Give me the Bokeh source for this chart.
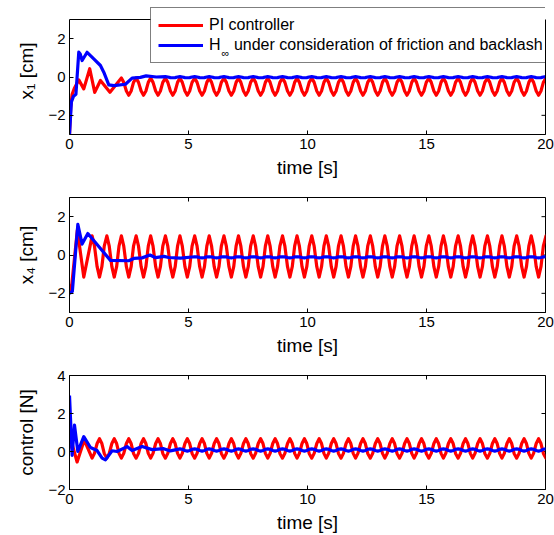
from bokeh.plotting import figure
from bokeh.models import Range1d, FixedTicker, LinearAxis, Legend, LegendItem
from bokeh.core.properties import value
from bokeh.layouts import column
from bokeh.embed import file_html
from bokeh.resources import INLINE

FONT = "Liberation Sans"
RED = "#ff0000"
BLUE = "#0000ff"

# ---------------- data ----------------
X_TICKS = [0, 5, 10, 15, 20]
Y_TICKS_X = [-2, 0, 2]
Y_TICKS_U = [-2, 0, 2, 4]

# start times of the cycles of the steady oscillation (peaks of x4) [s]
CYCLE_T = [0.95, 1.57, 2.18, 2.80, 3.41, 4.03, 4.64, 5.26, 5.87, 6.49,
           7.10, 7.72, 8.33, 8.95, 9.56, 10.18, 10.79, 11.41, 12.02, 12.64,
           13.25, 13.87, 14.48, 15.10, 15.71, 16.33, 16.94, 17.56, 18.17, 18.79,
           19.40, 20.02]
# sample offsets inside one cycle [s]
CYCLE_OFFS = [0.0, 0.10, 0.21, 0.31, 0.41, 0.51]

# x1 - PI controller: start-up, then one cycle of the steady wave
x1_pi_t0 = [0.0, 0.05, 0.11, 0.2, 0.39, 0.6, 0.85, 1.06, 1.3, 1.7]
x1_pi_v0 = [-3.0, -1.6, -0.9, -0.6, -0.15, -0.62, 0.43, -0.8, -0.18, -0.8]
x1_pi_cycle = [-0.05, -0.28, -0.73, -0.95, -0.73, -0.28]
# x1 - H-infinity
x1_h_t0 = [0.0, 0.08, 0.17, 0.27, 0.39, 0.45, 0.53, 0.74, 1.02, 1.30, 1.44, 1.65,
           1.87, 2.35, 2.63, 2.98, 3.22, 3.65]
x1_h_v0 = [-3.0, -1.3, -1.0, -0.9, 1.3, 1.2, 0.86, 1.29, 0.95, 0.6, 0.25, -0.41,
           -0.45, -0.38, -0.06, -0.02, 0.06, 0.0]
x1_h_cycle = [0.02, 0.0, -0.03, -0.04, -0.03, 0.0]

# x4 - PI controller
x4_pi_t0 = [0.0, 0.1, 0.33, 0.6]
x4_pi_v0 = [-2.0, -1.5, 1.3, -1.15]
x4_pi_cycle = [1.0, 0.46, -0.61, -1.15, -0.61, 0.46]
# x4 - H-infinity
x4_h_t0 = [0.0, 0.12, 0.35, 0.53, 0.77, 1.72, 2.49, 2.70, 3.05, 3.38, 3.62, 3.97,
           4.17, 4.66]
x4_h_v0 = [-2.0, -1.9, 1.6, 0.57, 1.12, -0.28, -0.3, -0.18, -0.15, 0.0, -0.14, -0.07,
           -0.13, -0.16]
x4_h_cycle = [-0.09, -0.10, -0.13, -0.15, -0.13, -0.10]

# control - PI controller
u_pi_t0 = [0.0, 0.12, 0.32, 0.62]
u_pi_v0 = [0.2, 0.35, -0.55, 0.6]
u_pi_cycle = [-0.35, -0.10, 0.42, 0.67, 0.42, -0.10]
# control - H-infinity
u_h_t0 = [0.0, 0.11, 0.21, 0.35, 0.6, 0.88, 1.16, 1.37, 1.51, 1.79, 2.0, 2.42,
          2.63, 3.05, 3.47, 3.96, 4.24]
u_h_v0 = [2.95, -0.2, 1.39, 0.0, 0.78, 0.21, 0.05, -0.35, -0.44, 0.04, 0.0, 0.26,
          0.05, 0.26, 0.1, 0.15, 0.03]
u_h_cycle = [0.14, 0.12, 0.05, 0.02, 0.05, 0.12]

LABEL_PI = "PI controller"
LABEL_H = "H\u00a0\u00a0\u00a0under consideration of friction and backlash"
SUB_H = "\u221e"

TICK_PX = 4
FRAME_W = 476
LW = 3.2
LEG_LEFT_PX = 81      # legend box left edge, px from frame left
LEG_BOTTOM_PX = 71    # legend box bottom edge, px from frame bottom


def series(t0, v0, first_cycle, cycle):
    t = list(t0)
    v = list(v0)
    for c in CYCLE_T[first_cycle:]:
        for o, val in zip(CYCLE_OFFS, cycle):
            t.append(c + o)
            v.append(val)
    return t, v


def make_fig(height, top, bottom, frame_h, yr, ybox, yticks, ylabel, boxed):
    p = figure(width=554, height=height, output_backend="svg", toolbar_location=None,
               x_range=Range1d(0, 20), y_range=Range1d(*yr),
               min_border_left=69, min_border_right=9,
               min_border_top=top, min_border_bottom=bottom)
    p.grid.visible = False
    p.background_fill_color = "white"
    p.border_fill_color = "white"
    for ax, ticks in ((p.xaxis[0], X_TICKS), (p.yaxis[0], yticks)):
        ax.ticker = FixedTicker(ticks=ticks)
        ax.major_tick_in = TICK_PX
        ax.major_tick_out = 0
        ax.minor_tick_line_color = None
        ax.axis_line_color = "black"
        ax.major_tick_line_color = "black"
        ax.major_label_text_font = FONT
        ax.major_label_text_font_size = "15px"
        ax.major_label_text_color = "black"
        ax.major_label_standoff = 4
        ax.axis_label_text_font = FONT
        ax.axis_label_text_font_size = "19px"
        ax.axis_label_text_font_style = "normal"
        ax.axis_label_text_color = "black"
    p.xaxis[0].axis_label = "time [s]"
    p.xaxis[0].axis_label_standoff = 5
    p.yaxis[0].axis_label = ylabel
    p.yaxis[0].axis_label_standoff = 8
    y0, y1 = ybox
    dx = TICK_PX * 20.0 / FRAME_W
    dy = TICK_PX * (yr[1] - yr[0]) / frame_h
    top_ticks = list(X_TICKS)
    right_ticks = list(yticks)
    if boxed:
        p.outline_line_color = "black"
        p.outline_line_width = 1
    else:
        # frame extends above the box (room for the legend): draw the box by hand,
        # leaving out the parts that the legend box covers
        p.outline_line_color = None
        p.yaxis[0].bounds = (y0, y1)
        rax = LinearAxis(ticker=FixedTicker(ticks=[]), bounds=(y0, y1),
                         axis_line_color="black", major_tick_line_color=None,
                         minor_tick_line_color=None)
        p.add_layout(rax, "right")
        x_leg = LEG_LEFT_PX * 20.0 / FRAME_W
        y_leg = yr[0] + LEG_BOTTOM_PX * (yr[1] - yr[0]) / frame_h
        p.segment(x0=[0], y0=[y1], x1=[x_leg], y1=[y1], line_color="black", line_width=1)
        top_ticks = [x for x in X_TICKS if x < x_leg]
        right_ticks = [y for y in yticks if y < y_leg]
    # inward ticks on the top and right edges of the box
    p.segment(x0=top_ticks, y0=[y1] * len(top_ticks), x1=top_ticks,
              y1=[y1 - dy] * len(top_ticks), line_color="black", line_width=1)
    p.segment(x0=[20] * len(right_ticks), y0=right_ticks, x1=[20 - dx] * len(right_ticks),
              y1=right_ticks, line_color="black", line_width=1)
    return p


# ---- plot 1: x1 ----  (frame 7..134 px; box -3..3 occupies 19..134)
p1 = make_fig(180, 7, 46, 127, (-3, 3 + 12 * 6.0 / 115), (-3, 3), Y_TICKS_X,
              "x\u2081 [cm]", boxed=False)
t, v = series(x1_pi_t0, x1_pi_v0, 2, x1_pi_cycle)
r_pi = p1.line(t, v, line_color=RED, line_width=LW, line_join="round")
t, v = series(x1_h_t0, x1_h_v0, 5, x1_h_cycle)
r_h = p1.line(t, v, line_color=BLUE, line_width=LW, line_join="round")
# subscript infinity of "H∞" in the legend label (no data lines pass there)
p1.text(x=[6.55], y=[1.24], text=[SUB_H], text_font=value(FONT),
        text_font_size="11px", text_color="black",
        text_align="center", text_baseline="middle")

legend = Legend(items=[LegendItem(label=LABEL_PI, renderers=[r_pi]),
                       LegendItem(label=LABEL_H, renderers=[r_h])],
                location=(LEG_LEFT_PX, LEG_BOTTOM_PX), orientation="vertical",
                label_text_font=FONT, label_text_font_size="16px",
                label_text_color="black",
                glyph_width=45, glyph_height=20, label_height=20,
                label_standoff=6, padding=7, spacing=0, margin=0,
                border_line_color="black", border_line_width=1,
                background_fill_alpha=0.0)
p1.add_layout(legend)

# ---- plot 2: x4 ----
p2 = make_fig(178, 17, 46, 115, (-3, 3), (-3, 3), Y_TICKS_X, "x\u2084 [cm]", boxed=True)
t, v = series(x4_pi_t0, x4_pi_v0, 0, x4_pi_cycle)
p2.line(t, v, line_color=RED, line_width=LW, line_join="round")
t, v = series(x4_h_t0, x4_h_v0, 7, x4_h_cycle)
p2.line(t, v, line_color=BLUE, line_width=LW, line_join="round")

# ---- plot 3: control ----
p3 = make_fig(177, 17, 44, 116, (-2, 4), (-2, 4), Y_TICKS_U, "control [N]", boxed=True)
t, v = series(u_pi_t0, u_pi_v0, 0, u_pi_cycle)
p3.line(t, v, line_color=RED, line_width=LW, line_join="round")
t, v = series(u_h_t0, u_h_v0, 6, u_h_cycle)
p3.line(t, v, line_color=BLUE, line_width=LW, line_join="round")

layout = column(p1, p2, p3, spacing=0)
open("out.html", "w").write(file_html(layout, INLINE))
